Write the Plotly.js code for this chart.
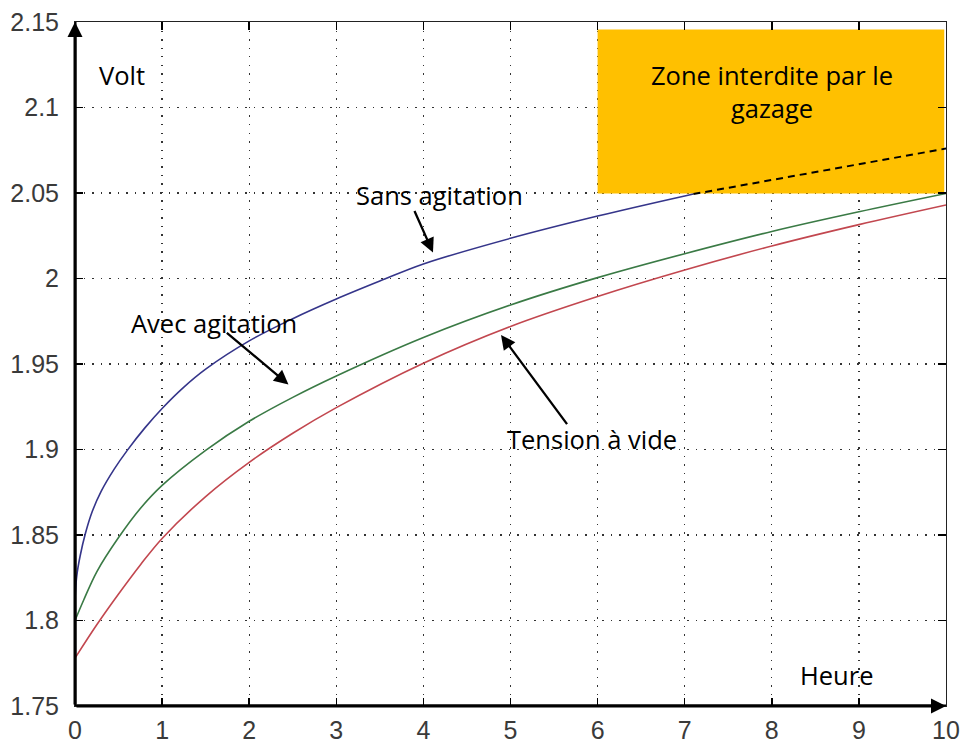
<!DOCTYPE html>
<html>
<head>
<meta charset="utf-8">
<script src="https://cdn.plot.ly/plotly-3.0.1.min.js"></script>
<style>html,body{margin:0;padding:0;background:#fff;}#chart{width:964px;height:747px;}</style>
</head>
<body>
<div id="chart"></div>
<script>
// ---- data ----
const xRange = [0, 10];
const yRange = [1.75, 2.15];
const xTickVals = [0,1,2,3,4,5,6,7,8,9,10];
const xTickText = ["0","1","2","3","4","5","6","7","8","9","10"];
const yTickVals = [1.75,1.8,1.85,1.9,1.95,2.0,2.05,2.1,2.15];
const yTickText = ["1.75","1.8","1.85","1.9","1.95","2","2.05","2.1","2.15"];

const sansX = [0,0.02,0.06,0.12,0.2,0.3,0.45,0.6,0.8,1,1.25,1.5,2,2.5,3,3.5,4,5,6,7,7.1];
const sansY = [1.812,1.826,1.838,1.851,1.864,1.8755,1.8885,1.8995,1.9125,1.924,1.9365,1.947,1.9635,1.9765,1.988,1.9985,2.0085,2.0235,2.0365,2.0483,2.0494];

const avecX = [0,0.1,0.25,0.5,0.75,1,1.5,2,2.5,3,4,5,6,7,8,9,10];
const avecY = [1.800,1.812,1.8285,1.8485,1.8655,1.879,1.8995,1.9165,1.9305,1.943,1.9655,1.9845,2.0005,2.0145,2.0275,2.039,2.0497];

const videX = [0,0.25,0.5,0.75,1,1.5,2,2.5,3,4,5,6,7,8,9,10];
const videY = [1.778,1.7975,1.8155,1.8325,1.848,1.8725,1.8925,1.9095,1.9245,1.9505,1.972,1.9895,2.005,2.019,2.0315,2.043];

// extrapolated (dashed) continuation into the forbidden zone
const dashX = [7.1, 10];
const dashY = [2.0494, 2.076];

// forbidden zone box
const zoneX = [6.0, 9.98];
const zoneY = [2.0497, 2.1456];

const labels = {
  volt: {text: "Volt", x: 0.54, y: 2.1193},
  heure: {text: "Heure", x: 8.746, y: 1.7684},
  sans: {text: "Sans agitation", x: 4.19, y: 2.049, ax: 3.89, ay: 2.0404, hx: 4.11, hy: 2.0152},
  avec: {text: "Avec agitation", x: 1.6, y: 1.9737, ax: 1.726, ay: 1.969, hx: 2.451, hy: 1.938},
  vide: {text: "Tension à vide", x: 5.93, y: 1.906, ax: 5.662, ay: 1.914, hx: 4.891, hy: 1.967},
  zone: {text: "Zone interdite par le<br>gazage", x: 8.0, y: 2.1093}
};

// ---- traces ----
const lineStyle = (c) => ({color: c, width: 1.6, shape: 'spline', smoothing: 1});
const traces = [
  {x: videX, y: videY, mode: 'lines', line: lineStyle('#c2474f'), hoverinfo: 'skip'},
  {x: avecX, y: avecY, mode: 'lines', line: lineStyle('#3a7a45'), hoverinfo: 'skip'},
  {x: sansX, y: sansY, mode: 'lines', line: lineStyle('#35358a'), hoverinfo: 'skip'},
  {x: dashX, y: dashY, mode: 'lines', line: {color: '#000', width: 2, dash: '7px,5px'}, hoverinfo: 'skip'}
];

const txtFont = {family: 'Open Sans, sans-serif', size: 25.5, color: '#000'};
const annotations = [];
['volt','heure','zone'].forEach(k => {
  const L = labels[k];
  annotations.push({x: L.x, y: L.y, xref: 'x', yref: 'y', text: L.text, showarrow: false,
    font: txtFont, xanchor: 'center', yanchor: 'middle', align: 'center'});
});
['sans','avec','vide'].forEach(k => {
  const L = labels[k];
  annotations.push({x: L.x, y: L.y, xref: 'x', yref: 'y', text: L.text, showarrow: false,
    font: txtFont, xanchor: 'center', yanchor: 'middle'});
  annotations.push({x: L.hx, y: L.hy, ax: L.ax, ay: L.ay, xref: 'x', yref: 'y', axref: 'x', ayref: 'y',
    text: '', showarrow: true, arrowhead: 2, arrowsize: 1.25, arrowwidth: 2.3, arrowcolor: '#000'});
});
// axis arrows
annotations.push({x: xRange[1], y: yRange[0], ax: xRange[0], ay: yRange[0], xref: 'x', yref: 'y', axref: 'x', ayref: 'y',
  text: '', showarrow: true, arrowhead: 2, arrowsize: 1, arrowwidth: 3, arrowcolor: '#000'});
annotations.push({x: xRange[0], y: yRange[1], ax: xRange[0], ay: yRange[0], xref: 'x', yref: 'y', axref: 'x', ayref: 'y',
  text: '', showarrow: true, arrowhead: 2, arrowsize: 1, arrowwidth: 3, arrowcolor: '#000'});

const shapes = [
  {type: 'rect', xref: 'x', yref: 'y', x0: zoneX[0], x1: zoneX[1], y0: zoneY[0], y1: zoneY[1],
   fillcolor: '#FFC000', line: {width: 0}, layer: 'between'},
  {type: 'line', xref: 'x', yref: 'y', x0: xRange[0], x1: xRange[1], y0: yRange[0], y1: yRange[0],
   line: {color: '#000', width: 3}, layer: 'above'},
  {type: 'line', xref: 'x', yref: 'y', x0: xRange[0], x1: xRange[0], y0: yRange[0], y1: yRange[1],
   line: {color: '#000', width: 3}, layer: 'above'}
];

const tickFont = {family: 'Liberation Sans, Arial, sans-serif', size: 25, color: '#3a3a3a'};
const axisCommon = {
  showline: true, linecolor: '#222', linewidth: 1, mirror: 'ticks',
  ticks: 'inside', ticklen: 8, tickwidth: 1.5, tickcolor: '#000',
  showgrid: true, gridcolor: '#333', gridwidth: 1.4, griddash: '1.5px,7px',
  zeroline: false, tickfont: tickFont, automargin: false, fixedrange: true
};

const layout = {
  width: 964, height: 747,
  margin: {l: 75, r: 18, t: 22, b: 41},
  paper_bgcolor: '#fff', plot_bgcolor: '#fff',
  showlegend: false,
  xaxis: Object.assign({}, axisCommon, {range: xRange, tickmode: 'array', tickvals: xTickVals, ticktext: xTickText, ticklabelstandoff: 2}),
  yaxis: Object.assign({}, axisCommon, {range: yRange, tickmode: 'array', tickvals: yTickVals, ticktext: yTickText, ticklabelstandoff: 10}),
  shapes: shapes,
  annotations: annotations
};

Plotly.newPlot('chart', traces, layout, {displayModeBar: false, staticPlot: true});
</script>
</body>
</html>
